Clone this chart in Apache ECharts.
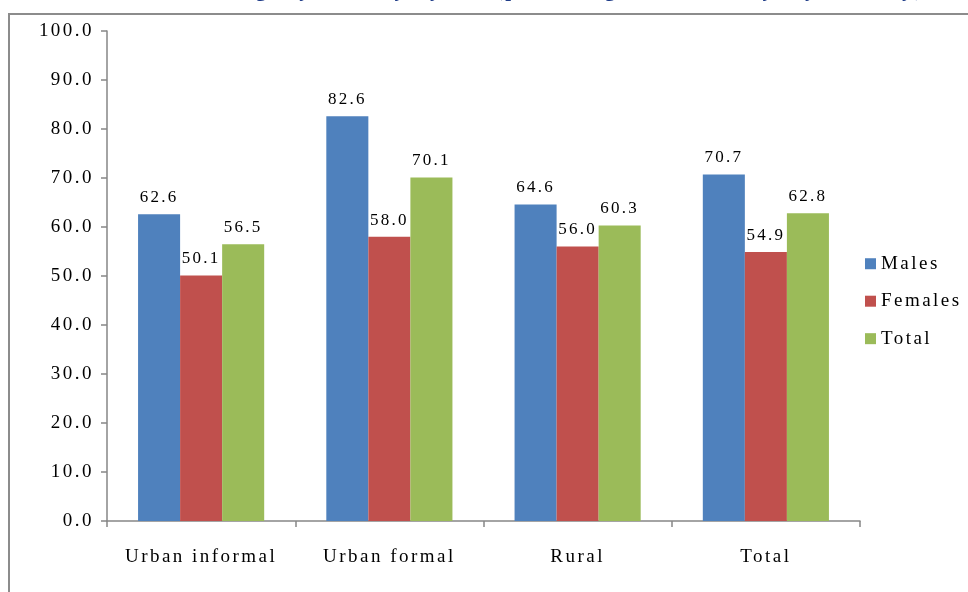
<!DOCTYPE html>
<html>
<head>
<meta charset="utf-8">
<script src="https://cdn.jsdelivr.net/npm/echarts@6/dist/echarts.min.js"></script>
<style>
  html, body { margin: 0; padding: 0; background: #ffffff; }
  #chart { width: 968px; height: 592px; }
</style>
</head>
<body>
<div id="chart"></div>
<script>
// Localities on the category axis
const categories = ['Urban informal', 'Urban formal', 'Rural', 'Total'];

// Percentages per sex group
const males   = [62.6, 82.6, 64.6, 70.7];
const females = [50.1, 58.0, 56.0, 54.9];
const total   = [56.5, 70.1, 60.3, 62.8];

const seriesNames = ['Males', 'Females', 'Total'];
const seriesColors = ['#4F81BD', '#C0504D', '#9BBB59'];

const serif = '"Liberation Serif", "Times New Roman", serif';

// Widen the serif text a little: apply letter spacing proportional to the
// font size for both drawing and measuring, so label layout stays consistent.
(function () {
  const proto = CanvasRenderingContext2D.prototype;
  if (!('letterSpacing' in proto)) return;
  function spacingFor(ctx) {
    const m = /(\d+(?:\.\d+)?)px/.exec(ctx.font || '');
    const size = m ? parseFloat(m[1]) : 12;
    return (size * 0.13).toFixed(2) + 'px';
  }
  const fillText = proto.fillText;
  const measureText = proto.measureText;
  proto.fillText = function () {
    this.letterSpacing = spacingFor(this);
    return fillText.apply(this, arguments);
  };
  proto.measureText = function () {
    this.letterSpacing = spacingFor(this);
    return measureText.apply(this, arguments);
  };
})();

const chart = echarts.init(document.getElementById('chart'), null, { renderer: 'canvas' });

function barSeries(name, data, color) {
  return {
    name: name,
    type: 'bar',
    data: data,
    barGap: '0%',
    barCategoryGap: '33%',
    itemStyle: { color: color },
    label: {
      show: true,
      position: 'top',
      distance: 7,
      color: '#000',
      fontFamily: serif,
      fontSize: 17,
      formatter: p => p.value.toFixed(1)
    },
    emphasis: { disabled: true }
  };
}

chart.setOption({
  animation: false,
  backgroundColor: '#ffffff',
  graphic: [
    {
      type: 'rect',
      shape: { x: 9, y: 14, width: 1000, height: 640 },
      style: { fill: 'none', stroke: '#8c8c8c', lineWidth: 2 },
      silent: true
    },
    {
      type: 'text',
      right: 43,
      top: -21,
      style: {
        text: 'g, by locality by sex (percentage of the study, by country)',
        fill: '#1F3C88',
        font: 'bold 21px ' + serif
      },
      silent: true
    }
  ],
  legend: {
    orient: 'vertical',
    left: 860,
    top: 248,
    itemWidth: 11,
    itemHeight: 11,
    itemGap: 16,
    icon: 'rect',
    textStyle: { fontFamily: serif, fontSize: 19, color: '#000' },
    data: seriesNames
  },
  grid: {
    left: 107,
    right: 108,
    top: 31,
    bottom: 71,
    containLabel: false
  },
  xAxis: {
    type: 'category',
    data: categories,
    axisLine: { lineStyle: { color: '#868686', width: 1.5 } },
    axisTick: { show: true, interval: 0, alignWithLabel: false, length: 6, lineStyle: { color: '#868686', width: 1.5 } },
    axisLabel: {
      interval: 0,
      color: '#000',
      fontFamily: serif,
      fontSize: 19,
      margin: 25
    }
  },
  yAxis: {
    type: 'value',
    min: 0,
    max: 100,
    interval: 10,
    axisLine: { show: true, lineStyle: { color: '#868686', width: 1.5 } },
    axisTick: { show: true, length: 6, lineStyle: { color: '#868686', width: 1.5 } },
    splitLine: { show: false },
    axisLabel: {
      color: '#000',
      fontFamily: serif,
      fontSize: 19,
      margin: 13,
      formatter: v => v.toFixed(1)
    }
  },
  series: [
    barSeries(seriesNames[0], males, seriesColors[0]),
    barSeries(seriesNames[1], females, seriesColors[1]),
    barSeries(seriesNames[2], total, seriesColors[2])
  ]
});
</script>
</body>
</html>
